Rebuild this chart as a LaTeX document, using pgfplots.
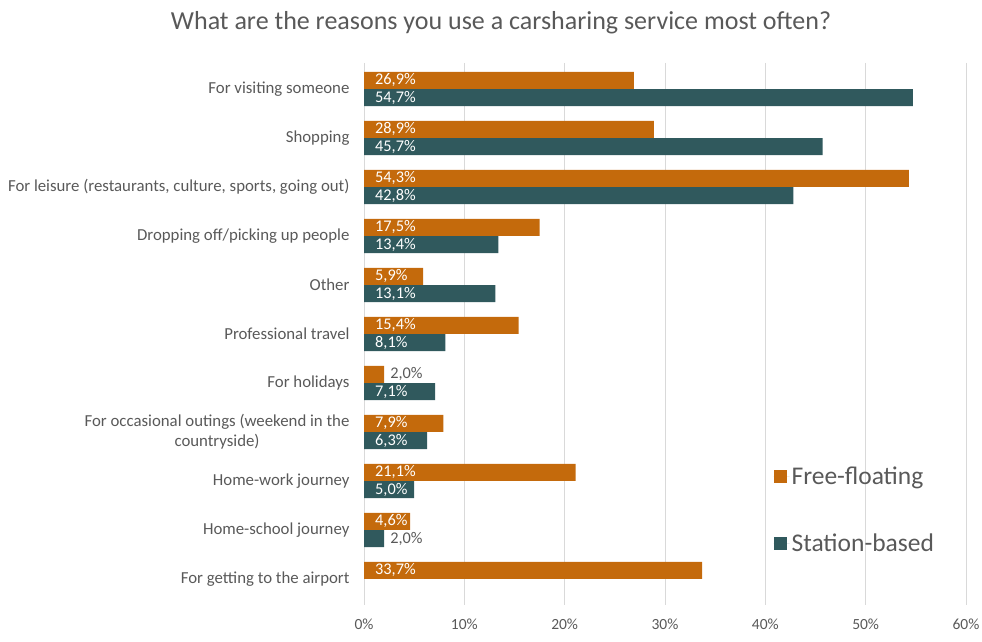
\documentclass[border=0pt]{standalone}
\usepackage{pgfplots}
\pgfplotsset{compat=1.18}
\usepackage{pgfplotstable}
\usepackage{fontspec}
\setmainfont{Carlito}
\definecolor{ffc}{HTML}{C46A0C}
\definecolor{sbc}{HTML}{30595D}
\definecolor{txt}{HTML}{595959}
\definecolor{grd}{HTML}{D9D9D9}
\pgfplotstableread{
idx ff sb
0 26.9 54.7
1 28.9 45.7
2 54.3 42.8
3 17.5 13.4
4 5.9 13.1
5 15.4 8.1
6 2.0 7.1
7 7.9 6.3
8 21.1 5.0
9 4.6 2.0
10 33.7 0
}\datatable
\begin{document}
\begin{tikzpicture}
\useasboundingbox (0,0) rectangle (982pt,642pt);
\node[text=txt, font=\fontsize{26}{30}\selectfont] at (501pt,619pt) {What are the reasons you use a carsharing service most often?};
\begin{axis}[
  at={(364pt,37pt)}, anchor=south west,
  scale only axis, width=602pt, height=542pt,
  xmin=0, xmax=60, ymin=-0.53, ymax=10.53,
  y dir=reverse,
  /pgf/number format/assume math mode=true,
  xtick={0,10,...,60},
  xticklabel={\pgfmathprintnumber{\tick}\%},
  xticklabel style={text=txt, font=\fontsize{15.5}{18}\selectfont, yshift=-10pt},
  ytick={0,...,10},
  yticklabels={For visiting someone, Shopping, {For leisure (restaurants, culture, sports, going out)}, Dropping off/picking up people, Other, Professional travel, For holidays, {For occasional outings (weekend in the\\countryside)}, Home-work journey, Home-school journey, For getting to the airport},
  yticklabel style={text=txt, font=\fontsize{16.8}{20}\selectfont, align=center, xshift=-11pt},
  major tick length=0pt,
  axis line style={draw=none},
  xmajorgrids, major grid style={color=grd, line width=0.8pt},
  legend style={draw=none, fill=none, at={(0.68,0.176)}, anchor=west, row sep=44pt, font=\fontsize{25.5}{30}\selectfont, text=txt, inner sep=0pt},
  legend cell align=left,
]
\addplot[xbar, bar width=17pt, bar shift=0pt, fill=ffc, draw=none,
  legend image code/.code={\fill[ffc] (0pt,-6.5pt) rectangle (13pt,6.5pt); \path (0pt,0pt) -- (16pt,0pt);}]
  table[x=ff, y expr=\thisrow{idx}-0.175] {\datatable};
\addlegendentry{Free-floating}
\addplot[xbar, bar width=17pt, bar shift=0pt, fill=sbc, draw=none,
  restrict expr to domain={\thisrow{sb}}{0.1:100},
  legend image code/.code={\fill[sbc] (0pt,-6.5pt) rectangle (13pt,6.5pt); \path (0pt,0pt) -- (16pt,0pt);}]
  table[x=sb, y expr=\thisrow{idx}+0.175] {\datatable};
\addlegendentry{Station-based}
% labels
\pgfplotsset{lbl/.style={draw=none, mark=none, forget plot, point meta=explicit,
  nodes near coords={\pgfmathprintnumber[fixed, fixed zerofill, precision=1, use comma]{\pgfplotspointmeta}\%},
  every node near coord/.append style={anchor=west, font=\fontsize{16.3}{18}\selectfont, inner sep=0pt}}}
\addplot[lbl, restrict expr to domain={\thisrow{ff}}{3:100},
  every node near coord/.append style={text=white, xshift=11pt}]
  table[x expr=0, y expr=\thisrow{idx}-0.175, meta=ff] {\datatable};
\addplot[lbl, restrict expr to domain={\thisrow{sb}}{3:100},
  every node near coord/.append style={text=white, xshift=11pt}]
  table[x expr=0, y expr=\thisrow{idx}+0.175, meta=sb] {\datatable};
\addplot[lbl, restrict expr to domain={\thisrow{ff}}{0.1:3},
  every node near coord/.append style={text=txt, xshift=6pt}]
  table[x=ff, y expr=\thisrow{idx}-0.175, meta=ff] {\datatable};
\addplot[lbl, restrict expr to domain={\thisrow{sb}}{0.1:3},
  every node near coord/.append style={text=txt, xshift=6pt}]
  table[x=sb, y expr=\thisrow{idx}+0.175, meta=sb] {\datatable};
\end{axis}
\end{tikzpicture}
\end{document}
